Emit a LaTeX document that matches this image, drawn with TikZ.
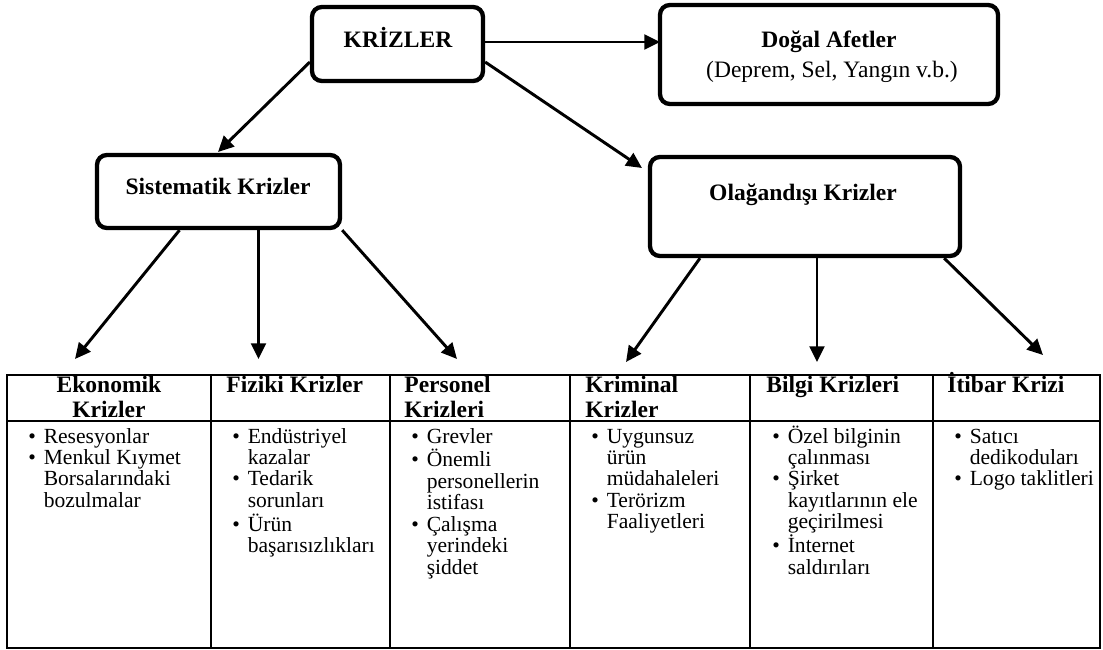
\documentclass[tikz,border=0pt]{standalone}
\usepackage{fontspec}
\setmainfont{Liberation Serif}
\usetikzlibrary{arrows.meta,calc}

% bullet list and header cell as top-aligned tabulars
\newcommand{\blist}[1]{\begin{tabular}[t]{@{}l@{\hspace{4pt}}l@{}}#1\end{tabular}}
\newcommand{\hcell}[1]{\begin{tabular}[t]{@{}l@{}}#1\end{tabular}}
\def\pxu{0.51pt}

\begin{document}
\begin{tikzpicture}[x=0.51pt,y=-0.51pt,
  crbox/.style={draw=black,line width=2.2pt,rounded corners=5pt,inner sep=0},
  ttl/.style={anchor=base,inner sep=0,font=\fontsize{12}{14}\selectfont\bfseries},
  sub/.style={anchor=base,inner sep=0,font=\fontsize{12}{14}\selectfont},
  hd/.style={anchor=base west,inner sep=0,font=\fontsize{12}{12.75}\selectfont\bfseries},
  bd/.style={anchor=base west,inner sep=0,font=\fontsize{11}{10.9}\selectfont},
  arr/.style={line width=1.5pt,-{Triangle[length=8pt,width=7.5pt]}},
  grid/.style={line width=1pt}]
\useasboundingbox (0,0) rectangle (1103,649);
% rounded boxes (sizes in px of the drawing)
\node[crbox,minimum width=171*\pxu,minimum height=74*\pxu] (kriz) at (397.5,44) {};
\node[crbox,minimum width=338*\pxu,minimum height=99*\pxu] (dogal) at (829,54.5) {};
\node[crbox,minimum width=243*\pxu,minimum height=73*\pxu] (sis) at (218.5,191.5) {};
\node[crbox,minimum width=310*\pxu,minimum height=99*\pxu] (ola) at (805,206.5) {};
\node[ttl] (krizT) at (398,47) {KRİZLER};
\node[ttl] (dogalT) at (829,47) {Doğal Afetler};
\node[sub] (dogalS) at (832,77) {(Deprem, Sel, Yangın v.b.)};
\node[ttl] (sisT) at (218,194) {Sistematik Krizler};
\node[ttl] (olaT) at (803,200.5) {Olağandışı Krizler};

% table frame
\draw[grid] (7,375) rectangle (1100,648);
\draw[grid] (7,421) -- (1100,421);
\foreach \cx in {211,390,570,750,933}
  \draw[grid] (\cx,375) -- (\cx,648);

% header row
\node[hd,anchor=base] (hEko) at (109,392) {\begin{tabular}[t]{@{}c@{}}Ekonomik\\Krizler\end{tabular}};
\node[hd] (hFiz) at (226,392) {Fiziki Krizler};
\node[hd] (hPer) at (404,392) {\hcell{Personel\\Krizleri}};
\node[hd] (hKri) at (585,392) {\hcell{Kriminal\\Krizler}};
\node[hd] (hBil) at (766,392) {Bilgi Krizleri};
\node[hd] (hItb) at (947,392) {İtibar Krizi};

% body row
\node[bd] (bEko) at (28,443) {\blist{\textbullet & Resesyonlar\\
  \textbullet & Menkul Kıymet\\ & Borsalarındaki\\ & bozulmalar}};
\node[bd] (bFiz) at (232,443) {\blist{\textbullet & Endüstriyel\\ & kazalar\\
  \textbullet & Tedarik\\ & sorunları\\ \textbullet & Ürün\\ & başarısızlıkları}};
\node[bd] (bPer) at (411,443) {\blist{\textbullet & Grevler\\ \textbullet & Önemli\\
  & personellerin\\ & istifası\\ \textbullet & Çalışma\\ & yerindeki\\ & şiddet}};
\node[bd] (bKri) at (591,443) {\blist{\textbullet & Uygunsuz\\ & ürün\\
  & müdahaleleri\\ \textbullet & Terörizm\\ & Faaliyetleri}};
\node[bd] (bBil) at (772,443) {\blist{\textbullet & Özel bilginin\\ & çalınması\\
  \textbullet & Şirket\\ & kayıtlarının ele\\ & geçirilmesi\\ \textbullet & İnternet\\ & saldırıları}};
\node[bd] (bItb) at (954,443) {\blist{\textbullet & Satıcı\\ & dedikoduları\\
  \textbullet & Logo taklitleri}};

% arrow tips
\foreach \n/\x/\y in {tDog/660/42, tSis/218/152, tOla/642/168,
    tEko/75/359, tFiz/258.5/359, tPer/457/359,
    tKri/626/362, tBil/817/362, tItb/1043/355}
  \coordinate (\n) at (\x,\y);

\draw[arr] ($(kriz.east)+(0,-2)$) -- (tDog);
\draw[arr] ($(kriz.west)+(0,18)$) -- (tSis);
\draw[arr] ($(kriz.east)+(0,18)$) -- (tOla);
\draw[arr] ($(sis.south)+(-39,0)$) -- (tEko);
\draw[arr] ($(sis.south)+(40,0)$) -- (tFiz);
\draw[arr] (sis.south east) -- (tPer);
\draw[arr] ($(ola.south)+(-105,0)$) -- (tKri);
\draw[arr] ($(ola.south)+(12,0)$) -- (tBil);
\draw[arr] ($(ola.south east)+(-18,0)$) -- (tItb);
\end{tikzpicture}
\end{document}
